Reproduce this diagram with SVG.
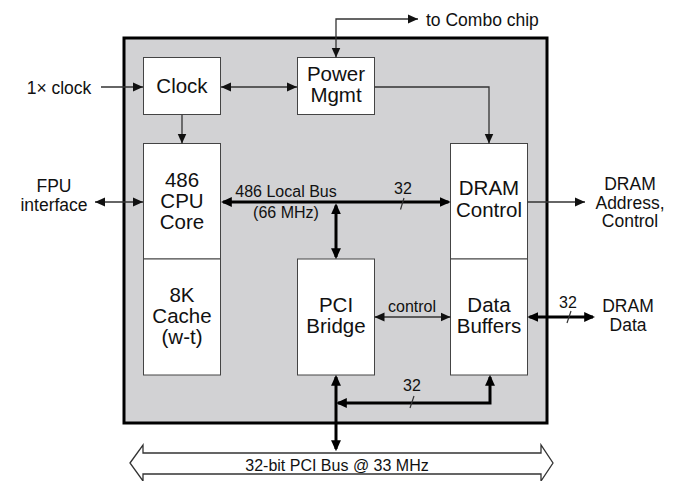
<svg xmlns="http://www.w3.org/2000/svg" width="678" height="481" viewBox="0 0 678 481">
<style>
text{font-family:"Liberation Sans",Arial,Helvetica,sans-serif;fill:#111;text-anchor:middle}
.node{font-size:20.5px}
.ext{font-size:17.5px}
.sm{font-size:16px}
.box{fill:#fff;stroke:#444;stroke-width:1}
.thin{fill:none;stroke:#333;stroke-width:1.3}
.thick{fill:none;stroke:#000;stroke-width:3}
.slash{stroke:#333;stroke-width:1.2}
</style>
<defs>
<marker id="ah" viewBox="0 0 10 10" refX="10" refY="5" markerWidth="10" markerHeight="10" markerUnits="userSpaceOnUse" orient="auto-start-reverse">
<path d="M0,0.5 L10,5 L0,9.5 z" fill="#111"/>
</marker>
<marker id="ahk" viewBox="0 0 10 10" refX="8" refY="5" markerWidth="11" markerHeight="11" markerUnits="userSpaceOnUse" orient="auto-start-reverse">
<path d="M0,0.5 L10,5 L0,9.5 z" fill="#000"/>
</marker>
</defs>

<rect x="124" y="38" width="423" height="385" fill="#d2d2d4" stroke="#000" stroke-width="3"/>

<g id="clock">
<rect class="box" x="143.5" y="57.5" width="77" height="57"/>
<text class="node" x="182" y="93">Clock</text>
</g>
<g id="power">
<rect class="box" x="297.5" y="57.5" width="77" height="57"/>
<text class="node" x="336" y="81">Power</text>
<text class="node" x="336" y="102">Mgmt</text>
</g>
<g id="cpu">
<rect class="box" x="143.5" y="143.5" width="77" height="115.5"/>
<text class="node" x="182" y="187">486</text>
<text class="node" x="182" y="208">CPU</text>
<text class="node" x="182" y="229">Core</text>
</g>
<g id="cache">
<rect class="box" x="143.5" y="259" width="77" height="116"/>
<text class="node" x="182" y="302">8K</text>
<text class="node" x="182" y="323">Cache</text>
<text class="node" x="182" y="344">(w-t)</text>
</g>
<g id="pci">
<rect class="box" x="297.5" y="259" width="77" height="116"/>
<text class="node" x="336" y="312">PCI</text>
<text class="node" x="336" y="333">Bridge</text>
</g>
<g id="dramctl">
<rect class="box" x="450.5" y="143.5" width="77" height="115.5"/>
<text class="node" x="489" y="195">DRAM</text>
<text class="node" x="489" y="217">Control</text>
</g>
<g id="databuf">
<rect class="box" x="450.5" y="259" width="77" height="116"/>
<text class="node" x="489" y="312">Data</text>
<text class="node" x="489" y="333">Buffers</text>
</g>

<g id="pcibus">
<polygon points="130,463 143,445 143,453 541,453 541,445 553,463 541,481 541,474 143,474 143,481" fill="#fff" stroke="#333" stroke-width="1.3"/>
<text class="sm" x="337" y="471">32-bit PCI Bus @ 33 MHz</text>
</g>

<g id="labels">
<text class="ext" x="59" y="94">1× clock</text>
<text class="ext" x="54" y="192">FPU</text>
<text class="ext" x="54" y="210.5">interface</text>
<text class="ext" x="426" y="26" style="text-anchor:start">to Combo chip</text>
<text class="ext" x="630" y="190">DRAM</text>
<text class="ext" x="630" y="208.5">Address,</text>
<text class="ext" x="630" y="227">Control</text>
<text class="ext" x="628" y="312">DRAM</text>
<text class="ext" x="628" y="331">Data</text>
<text class="sm" x="286" y="197">486 Local Bus</text>
<text class="sm" x="286" y="218">(66 MHz)</text>
<text class="sm" x="403" y="194">32</text>
<text class="sm" x="412" y="312">control</text>
<text class="sm" x="568" y="308">32</text>
<text class="sm" x="412" y="391">32</text>
</g>

<g id="connectors">
<path class="thin" d="M101,87 H143" marker-end="url(#ah)"/>
<path class="thin" d="M221,87 H297" marker-start="url(#ah)" marker-end="url(#ah)"/>
<path class="thin" d="M182,115 V143.5" marker-end="url(#ah)"/>
<path class="thin" d="M95,202 H143" marker-start="url(#ah)" marker-end="url(#ah)"/>
<path class="thin" d="M336,57.5 V19 H418" marker-start="url(#ah)" marker-end="url(#ah)"/>
<path class="thin" d="M374.5,87 H489 V143.5" marker-end="url(#ah)"/>
<path class="thin" d="M527.5,202 H585" marker-end="url(#ah)"/>
<path class="thin" d="M374.5,317 H450.5" marker-start="url(#ah)" marker-end="url(#ah)"/>
<path class="thick" d="M223,202 H448.5" marker-start="url(#ahk)" marker-end="url(#ahk)"/>
<path class="thick" d="M336,205.5 V257" marker-start="url(#ahk)" marker-end="url(#ahk)"/>
<path class="thick" d="M529.5,317 H593" marker-start="url(#ahk)" marker-end="url(#ahk)"/>
<path class="thick" d="M336,377 V449" marker-start="url(#ahk)" marker-end="url(#ahk)"/>
<path class="thick" d="M338,403 H490 V377" marker-start="url(#ahk)" marker-end="url(#ahk)"/>
<line class="slash" x1="404" y1="198" x2="400.5" y2="209.5"/>
<line class="slash" x1="571" y1="311" x2="567" y2="323"/>
<line class="slash" x1="414" y1="396" x2="410" y2="408"/>
</g>
</svg>
